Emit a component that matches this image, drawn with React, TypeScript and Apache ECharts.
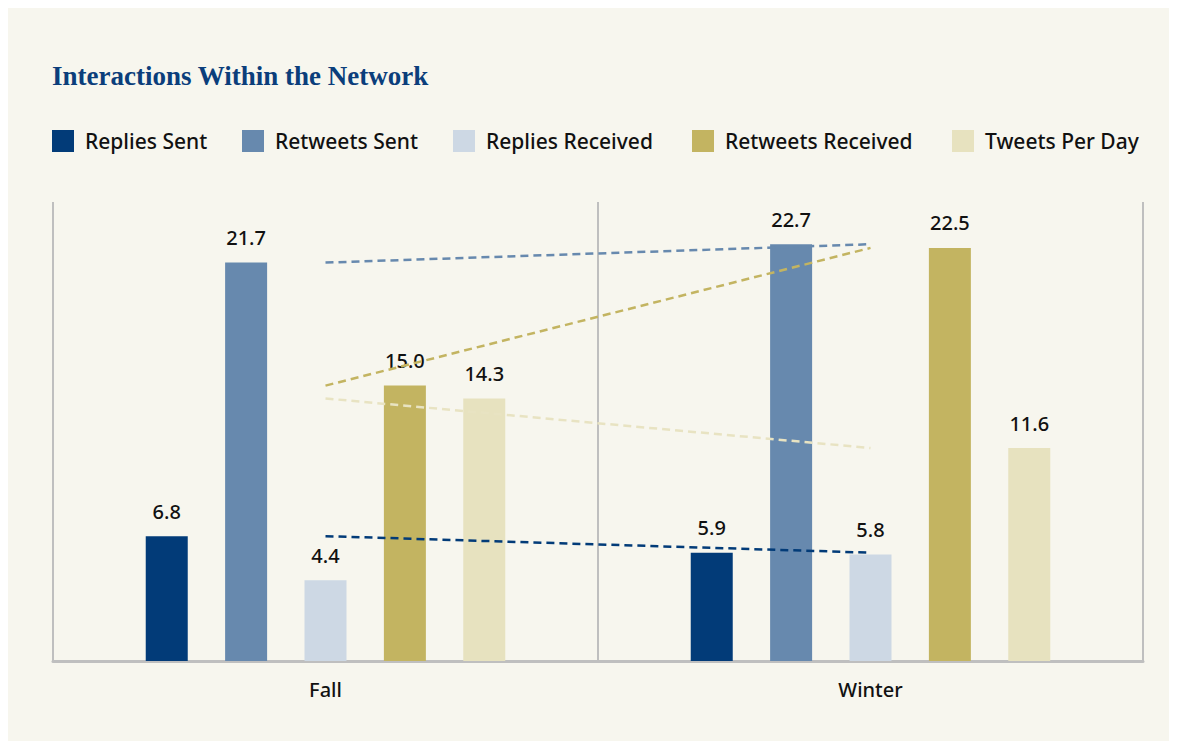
import React, { useEffect, useRef } from "react";
import * as echarts from "echarts";

const categories = ["Fall", "Winter"];
const seriesNames = ["Replies Sent", "Retweets Sent", "Replies Received", "Retweets Received", "Tweets Per Day"];
const repliesSent = [6.8, 5.9];
const retweetsSent = [21.7, 22.7];
const repliesReceived = [4.4, 5.8];
const retweetsReceived = [15.0, 22.5];
const tweetsPerDay = [14.3, 11.6];
const seriesValues = [repliesSent, retweetsSent, repliesReceived, retweetsReceived, tweetsPerDay];
const trendSeries = [true, true, false, true, true];

const colors = ["#023b78", "#6789ae", "#cdd8e4", "#c3b461", "#e7e2bf"];
const lineColors = ["#023b78", "#6789ae", "#cdd8e4", "#c3b461", "#e8e3c2"];
const legendLefts = [39, 229, 440, 679, 939];

const FONT = "'Noto Sans', sans-serif";

export default function App() {
  const ref = useRef<HTMLDivElement>(null);
  useEffect(() => {
    if (!ref.current) return;
    const chart = echarts.init(ref.current, null, { renderer: "svg" });
    const bars = seriesNames.map((name, i) => ({
      name,
      type: "bar",
      data: seriesValues[i],
      barWidth: 42,
      barGap: "89%",
      itemStyle: { color: colors[i] },
      label: {
        show: true,
        position: "top",
        distance: 15,
        formatter: (p: any) => Number(p.value).toFixed(1),
        color: "#111",
        fontFamily: FONT,
        fontSize: 20,
        fontWeight: 500,
      },
    }));
    const lines = seriesNames
      .map((name, i) => ({ name, i }))
      .filter((d) => trendSeries[d.i])
      .map((d) => ({
        name: d.name + " trend",
        type: "line",
        data: seriesValues[d.i],
        showSymbol: false,
        symbol: "none",
        z: 5,
        lineStyle: { color: lineColors[d.i], width: 2.5, type: [8, 5] },
      }));
    chart.setOption({
      animation: false,
      backgroundColor: "#f7f6ee",
      title: {
        text: "Interactions Within the Network",
        left: 39,
        top: 49,
        textStyle: {
          fontFamily: "'Liberation Serif', serif",
          fontWeight: "bold",
          fontSize: 27,
          color: "#0b3e7b",
        },
      },
      legend: seriesNames.map((name, i) => ({
        data: [name],
        left: legendLefts[i],
        top: 117,
        icon: "rect",
        itemWidth: 22,
        itemHeight: 22,
        selectedMode: false,
        textStyle: {
          fontFamily: FONT,
          fontSize: 21,
          fontWeight: 500,
          color: "#111",
          padding: [0, 0, 0, 6],
        },
      })),
      grid: { left: 45, right: 26, top: 194, bottom: 80 },
      xAxis: {
        type: "category",
        data: categories,
        axisLine: { lineStyle: { color: "#bfbfbf", width: 3 } },
        axisTick: { show: false },
        splitLine: { show: true, lineStyle: { color: "#bfbfbf", width: 2 } },
        axisLabel: {
          margin: 18,
          fontFamily: FONT,
          fontSize: 20,
          fontWeight: 500,
          color: "#111",
        },
      },
      yAxis: {
        type: "value",
        min: 0,
        max: 25,
        show: false,
        splitLine: { show: false },
      },
      series: [...bars, ...lines],
    });
    return () => chart.dispose();
  }, []);
  return <div ref={ref} style={{ width: 1161, height: 733 }} />;
}
